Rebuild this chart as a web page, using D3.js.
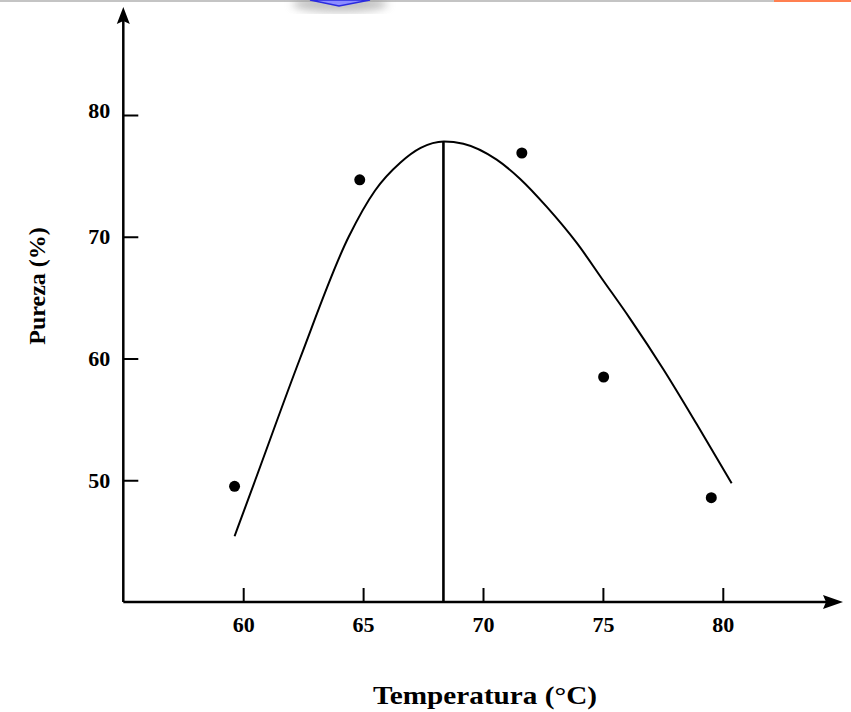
<!DOCTYPE html>
<html>
<head>
<meta charset="utf-8">
<script src="https://cdn.jsdelivr.net/npm/d3@7/dist/d3.min.js"></script>
<style>
  body { margin: 0; background: #fff; }
  svg { display: block; }
  text { font-family: "Liberation Serif", "Times New Roman", serif; font-weight: bold; fill: #000; }
</style>
</head>
<body>
<svg id="chart"></svg>
<script>
// measured points
const pointTemp = [59.64, 64.86, 71.62, 75.03, 79.52]
const pointPurity = [49.5, 74.68, 76.88, 58.48, 48.57]

// fitted curve
const curveTemp = [59.64, 60.5, 62.37, 64.4, 65.5, 66.56, 67.4, 68.37, 69.18, 70.57, 71.54, 72.66, 73.91, 75.02, 76.13, 77.52, 78.91, 80.37]
const curvePurity = [45.4, 50, 60, 70, 73.8, 76.1, 77.3, 77.83, 77.64, 76.33, 74.77, 72.45, 69.49, 66.39, 63.28, 59.12, 54.62, 49.75]

// optimum
const optTemp = 68.35
const optPurity = 77.83

const xTicks = [60, 65, 70, 75, 80]
const yTicks = [50, 60, 70, 80]

const width = 851
const height = 712

const svg = d3.select('svg#chart').attr('width', width).attr('height', height)

// slide decorations at the top edge
const defs = svg.append('defs')
defs.append('filter').attr('id', 'blur').append('feGaussianBlur').attr('stdDeviation', 4)
svg.append('rect').attr('x', 0).attr('y', 0).attr('width', width).attr('height', 2).attr('fill', '#c4c4c4')
svg.append('ellipse').attr('cx', 340).attr('cy', 4).attr('rx', 48).attr('ry', 8)
  .attr('fill', '#999').attr('opacity', 0.6).attr('filter', 'url(#blur)')
svg.append('polygon').attr('points', '310,0 370,0 339,6')
  .attr('fill', '#8c8cff').attr('stroke', '#2a2ae0').attr('stroke-width', 1.5)
svg.append('rect').attr('x', 774).attr('y', 0).attr('width', width - 774).attr('height', 2).attr('fill', '#ff7f50')

const x = d3.scaleLinear().domain([55, 85]).range([123.3, 842.7])
const y = d3.scaleLinear().domain([40, 80]).range([602, 115])

const x0 = x(55)
const y0 = y(40)

// axes (ticks pointing inwards)
const xAxis = svg.append('g').attr('transform', 'translate(0,' + y0 + ')')
  .call(d3.axisBottom(x).tickValues(xTicks).tickSizeInner(-14).tickSizeOuter(0).tickPadding(14))
xAxis.select('.domain').remove()
xAxis.selectAll('line').attr('stroke', '#000').attr('stroke-width', 2)
xAxis.selectAll('text').attr('font-size', 22).attr('font-family', '"Liberation Serif", serif').attr('font-weight', 'bold')

const yAxis = svg.append('g').attr('transform', 'translate(' + x0 + ',0)')
  .call(d3.axisLeft(y).tickValues(yTicks).tickSizeInner(-15).tickSizeOuter(0).tickPadding(13))
yAxis.select('.domain').remove()
yAxis.selectAll('line').attr('stroke', '#000').attr('stroke-width', 2)
yAxis.selectAll('text').attr('font-size', 22).attr('font-family', '"Liberation Serif", serif').attr('font-weight', 'bold')
  .attr('dy', d => d === 80 ? '0.1em' : '0.32em')

// axis lines with arrow heads
svg.append('line').attr('x1', x0).attr('y1', y0).attr('x2', x0).attr('y2', 20)
  .attr('stroke', '#000').attr('stroke-width', 2.5)
svg.append('line').attr('x1', x0).attr('y1', y0).attr('x2', 830).attr('y2', y0)
  .attr('stroke', '#000').attr('stroke-width', 2.5)
svg.append('path').attr('d', `M${x0},7 L${x0 - 6.5},24 L${x0},21 L${x0 + 6.5},24 Z`).attr('fill', '#000')
svg.append('path').attr('d', `M843,${y0} L823,${y0 - 7} L826,${y0} L823,${y0 + 7} Z`).attr('fill', '#000')

// curve
const curveData = curveTemp.map((t, i) => [t, curvePurity[i]])
svg.append('path').datum(curveData)
  .attr('d', d3.line().x(d => x(d[0])).y(d => y(d[1])).curve(d3.curveMonotoneX))
  .attr('fill', 'none').attr('stroke', '#000').attr('stroke-width', 2)

// line at the optimum temperature
svg.append('line').attr('x1', x(optTemp)).attr('x2', x(optTemp)).attr('y1', y(optPurity)).attr('y2', y0)
  .attr('stroke', '#000').attr('stroke-width', 2.6)

// points
svg.append('g').selectAll('circle').data(pointTemp).enter().append('circle')
  .attr('cx', d => x(d))
  .attr('cy', (d, i) => y(pointPurity[i]))
  .attr('r', 5.5)
  .attr('fill', '#000')

// labels
svg.append('text').attr('x', 485).attr('y', 704).attr('text-anchor', 'middle')
  .attr('font-size', 25).attr('textLength', 224).attr('lengthAdjust', 'spacingAndGlyphs')
  .text('Temperatura (°C)')
svg.append('text').attr('transform', 'translate(45,286) rotate(-90)').attr('text-anchor', 'middle')
  .attr('font-size', 24)
  .text('Pureza (%)')
</script>
</body>
</html>
